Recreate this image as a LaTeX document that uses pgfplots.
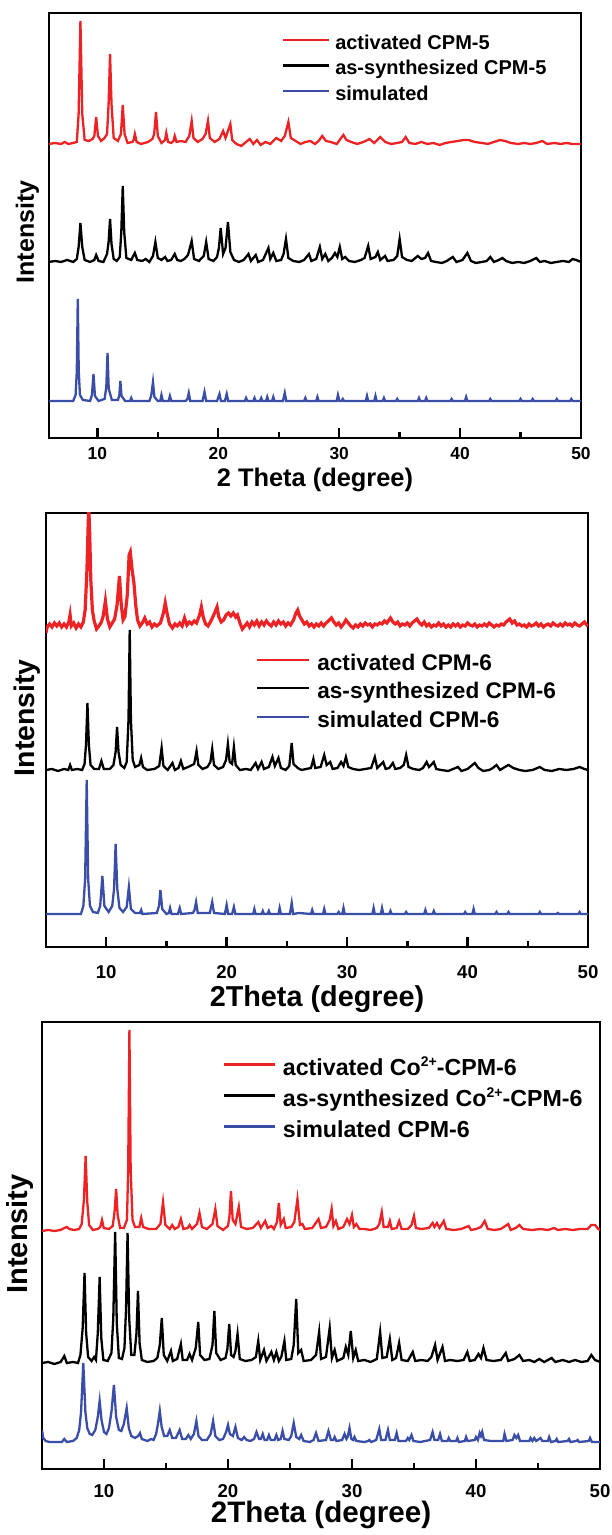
\documentclass[border=0pt]{standalone}
\usepackage{pgfplots}
\pgfplotsset{compat=1.18}
\usepackage{fontspec}
\setmainfont{Liberation Sans}
\definecolor{xred}{RGB}{236,34,36}
\definecolor{xblue}{RGB}{58,78,168}
\newcommand{\supc}[1]{\raisebox{0.75ex}{\fontsize{7}{7}\selectfont #1}}
\pgfplotsset{
 xrd/.style={
  scale only axis, anchor=south west, xmax=50, ymin=0,
  xtick={10,20,30,40,50}, minor x tick num=1, xtick pos=left, tick align=inside,
  ytick=\empty, major tick length=5pt, minor tick length=3pt,
  every tick/.style={black, line width=1.2pt},
  axis line style={line width=1.4pt},
  /pgf/number format/assume math mode=true,
  legend cell align=left,
 }
}
\begin{document}
\begin{tikzpicture}
\useasboundingbox (0,0) rectangle (305.5pt,767.5pt);
% ---------------- Panel 1 ----------------
\begin{axis}[xrd, at={(24.5pt,548.5pt)}, width=266pt, height=212.5pt,
  xmin=6, ymax=425,
  xticklabel style={font=\bfseries\fontsize{8.7}{10}\selectfont, anchor=center, yshift=-7.8pt},
  xlabel={2 Theta (degree)},
  xlabel style={font=\bfseries\fontsize{12.7}{14}\selectfont, at={(axis description cs:0.5,0)}, anchor=center, yshift=-21pt},
  ylabel={Intensity},
  ylabel style={font=\bfseries\fontsize{12.5}{14}\selectfont, at={(axis description cs:-0.0404,0.485)}, anchor=center},
  legend style={draw=none, fill=none, at={(0.436,0.955)}, anchor=north west, inner sep=0pt, row sep=0pt,
    font=\bfseries\fontsize{10}{12}\selectfont, nodes={inner sep=0pt, text height=8.3pt, text depth=4.45pt},
    /tikz/every odd column/.append style={column sep=2.8pt}},
  legend image code/.code={\draw[#1] (0pt,2.6pt) -- (23pt,2.6pt);},
]
\addplot[xred, line width=1.15pt, y filter/.expression={y+294}] coordinates {
(6,0)(6.5,1)(7,0)(7.3,2)(7.6,0)(8.0,1)(8.3,2)(8.45,30)(8.53,80)(8.6,123)(8.67,80)(8.75,30)(8.95,4)(9.3,3)(9.6,5)
(9.75,8)(9.9,27)(10.05,8)(10.3,3)(10.6,6)(10.8,10)(10.93,40)(11.05,90)(11.17,40)(11.35,6)(11.7,3)
(11.95,10)(12.1,39)(12.25,10)(12.5,1)(12.9,2)(13.0,4)(13.1,10)(13.25,2)(13.6,0)(14.2,2)(14.55,5)
(14.7,10)(14.85,32)(15.0,8)(15.3,1)(15.6,4)(15.7,11)(15.85,2)(16.1,1)(16.3,3)(16.4,8)(16.55,2)(16.9,3)(17.3,2)(17.6,8)
(17.8,23)(17.95,6)(18.3,2)(18.7,5)(18.95,10)(19.15,23)(19.3,6)(19.7,2)(20.1,5)(20.4,13)(20.6,6)
(21.0,20)(21.15,4)(21.5,0)(21.9,-2)(22.3,2)(22.6,5)(22.9,0)(23.2,4)(23.5,-1)(23.9,2)(24.3,0)(24.8,6)(25.2,3)(25.5,8)
(25.8,22)(26.0,6)(26.4,3)(26.8,0)(27.2,2)(27.6,3)(28.0,0)(28.3,3)(28.6,8)(28.9,3)(29.3,2)(29.8,0)(30.1,5)
(30.35,9)(30.6,4)(31.0,2)(31.5,0)(32.0,2)(32.5,5)(32.9,1)(33.4,7)(33.8,2)(34.3,0)(34.8,1)(35.2,2)(35.5,7)(35.8,1)(36.3,0)
(36.8,2)(37.3,0)(37.8,1)(38.3,-1)(38.8,1)(39.3,2)(39.8,3)(40.3,4)(40.7,4)(41.2,2)(41.8,1)(42.3,0)(42.8,2)(43.3,4)(43.7,3)
(44.2,1)(44.8,0)(45.3,1)(45.8,0)(46.3,1)(46.8,3)(47.2,0)(47.8,1)(48.3,0)(48.8,1)(49.3,0)(50,0)};
\addlegendentry{activated CPM-5}
\addplot[black, line width=1.15pt, y filter/.expression={y+176}] coordinates {
(6,0)(6.5,1)(7,0)(7.5,2)(8.0,0)(8.3,3)(8.45,15)(8.6,39)(8.75,15)(8.95,2)(9.4,0)(9.75,2)(9.9,7)(10.1,1)(10.5,0)
(10.8,8)(10.93,20)(11.05,43)(11.17,18)(11.35,3)(11.6,1)(11.85,5)(11.98,30)(12.1,76)(12.22,30)(12.4,4)(12.8,2)(13.1,9)(13.3,2)
(13.7,1)(14.0,3)(14.3,0)(14.6,6)(14.8,20)(15.0,4)(15.3,2)(15.6,5)(15.8,1)(16.1,2)(16.4,8)(16.6,2)(16.9,1)(17.2,3)(17.5,7)
(17.8,21)(18.0,3)(18.4,1)(18.8,6)(19.0,20)(19.2,3)(19.6,1)(19.9,5)(20.05,14)(20.2,34)(20.4,8)(20.6,14)(20.8,40)(21.0,10)
(21.3,2)(21.7,0)(22.1,2)(22.5,8)(22.7,1)(23.1,7)(23.3,0)(23.7,2)(24.15,14)(24.3,3)(24.55,9)(24.8,1)(25.2,2)(25.4,8)(25.6,23)
(25.8,4)(26.2,1)(26.7,0)(27.1,2)(27.5,8)(27.7,1)(28.1,3)(28.4,15)(28.6,3)(28.85,8)(29.1,1)(29.4,4)(29.65,9)(29.85,5)(30.05,15)
(30.25,3)(30.5,5)(30.8,1)(31.3,0)(31.8,2)(32.1,4)(32.4,16)(32.6,3)(33.0,5)(33.2,10)(33.4,2)(33.8,6)(34.0,1)(34.5,2)(34.8,6)
(35.0,23)(35.2,5)(35.6,2)(36.0,1)(36.5,6)(36.8,3)(37.1,4)(37.35,9)(37.6,1)(38.0,0)(38.5,-1)(38.9,1)(39.4,5)(39.7,0)(40.2,2)
(40.6,9)(40.9,1)(41.3,-1)(41.8,0)(42.2,1)(42.5,5)(42.8,0)(43.2,2)(43.5,4)(43.8,1)(44.3,-1)(44.8,0)(45.3,-1)(45.8,1)(46.3,4)
(46.6,0)(47.0,1)(47.5,-1)(48.0,0)(48.5,1)(49.0,0)(49.3,3)(49.6,2)(50,0)};
\addlegendentry{as-synthesized CPM-5}
\addplot[xblue, line width=1.15pt, y filter/.expression={y+37}] coordinates {
(6,0)(8.0,0)(8.2,6)(8.3,30)(8.38,102)(8.46,30)(8.56,6)(8.8,1)(9.4,0)(9.55,6)(9.68,27)(9.8,5)(10.1,0)(10.6,2)(10.74,14)
(10.84,48)(10.94,12)(11.2,1)(11.7,1)(11.82,6)(11.9,20)(12.0,5)(12.3,0)(12.7,0)(12.8,3)(12.9,0)(14.3,0)(14.45,5)(14.6,19)
(14.72,4)(15.0,0)(15.2,0)(15.3,6)(15.42,0)(15.9,0)(16.0,5)(16.12,0)(17.3,0)(17.45,2)(17.56,8)(17.68,0)(18.7,0)(18.86,9)(19.0,0)
(19.9,0)(20.1,7)(20.22,0)(20.55,0)(20.7,7)(20.82,0)(22.2,0)(22.3,3)(22.42,0)(22.9,0)(23.0,3)(23.1,0)(23.45,0)(23.55,3)(23.65,0)
(23.95,0)(24.05,4)(24.15,0)(24.45,0)(24.55,4)(24.65,0)(25.35,0)(25.5,8)(25.62,0)(27.1,0)(27.2,3)(27.3,0)(28.1,0)(28.2,4)(28.3,0)
(29.8,0)(29.9,6)(30.02,0)(30.2,0)(30.3,2)(30.4,0)(32.2,0)(32.3,5)(32.4,0)(32.9,0)(33.0,5)(33.1,0)(33.6,0)(33.7,3)(33.8,0)
(34.7,0)(34.8,2)(34.9,0)(36.5,0)(36.6,3)(36.7,0)(37.1,0)(37.2,3)(37.3,0)(39.2,0)(39.3,2)(39.4,0)(40.4,0)(40.5,4)(40.6,0)
(42.4,0)(42.5,2)(42.6,0)(44.9,0)(45.0,2)(45.1,0)(45.9,0)(46.0,2)(46.1,0)(47.9,0)(48.0,2)(48.1,0)(49.1,0)(49.2,2)(49.3,0)(50,0)};
\addlegendentry{simulated}
\end{axis}
% ---------------- Panel 2 ----------------
\begin{axis}[xrd, at={(23pt,294pt)}, width=271pt, height=217pt,
  xmin=5, ymax=434,
  xticklabel style={font=\bfseries\fontsize{9.3}{11}\selectfont, anchor=center, yshift=-12.5pt},
  xlabel={2Theta (degree)},
  xlabel style={font=\bfseries\fontsize{14.4}{16}\selectfont, at={(axis description cs:0.5,0)}, anchor=center, yshift=-26pt},
  ylabel={Intensity},
  ylabel style={font=\bfseries\fontsize{14.2}{16}\selectfont, at={(axis description cs:-0.035,0.528)}, anchor=center},
  legend style={draw=none, fill=none, at={(0.387,0.682)}, anchor=north west, inner sep=0pt, row sep=0pt,
    font=\bfseries\fontsize{11.3}{13}\selectfont, nodes={inner sep=0pt, text height=9.4pt, text depth=4.85pt},
    /tikz/every odd column/.append style={column sep=3.5pt}},
  legend image code/.code={\draw[#1, line width=1.1pt] (0pt,2.9pt) -- (26pt,2.9pt);},
]
\addplot[xred, line width=1.6pt, y filter/.expression={y+322}] coordinates {
(5.0,-8)(5.1,-2)(5.3,1)(5.5,-2)(5.7,2)(5.9,-1)(6.1,2)(6.3,-2)(6.5,1)(6.7,-2)(6.9,3)(7.0,10)(7.1,-1)(7.3,2)(7.5,-3)(7.7,1)
(7.9,-2)(8.1,3)(8.25,15)(8.4,55)(8.5,100)(8.55,118)(8.62,95)(8.72,45)(8.85,15)(9.0,4)(9.2,-4)(9.4,-1)(9.6,3)(9.75,9)(9.93,24)
(10.1,6)(10.3,-2)(10.5,2)(10.7,6)(10.9,20)(11.1,49)(11.25,20)(11.4,5)(11.55,8)(11.75,30)(11.9,70)(12.0,73)(12.15,55)(12.3,42)
(12.45,20)(12.6,5)(12.8,-1)(13.0,2)(13.2,7)(13.4,1)(13.6,3)(13.8,-2)(14.0,1)(14.2,-1)(14.5,2)(14.75,12)(14.9,22)(15.05,12)
(15.25,1)(15.5,-3)(15.7,1)(15.9,-1)(16.1,2)(16.3,-1)(16.5,7)(16.7,0)(16.9,3)(17.1,1)(17.3,4)(17.5,2)(17.75,10)(17.9,18)
(18.05,8)(18.25,1)(18.45,-1)(18.65,3)(18.85,8)(19.0,12)(19.2,18)(19.35,8)(19.55,3)(19.75,5)(19.95,10)(20.15,12)(20.35,9)
(20.55,12)(20.75,8)(20.9,10)(21.1,2)(21.3,-4)(21.5,-1)(21.7,2)(21.9,-2)(22.1,3)(22.3,0)(22.5,4)(22.7,-1)(22.9,3)(23.1,0)
(23.3,4)(23.5,1)(23.7,-1)(23.9,3)(24.1,0)(24.3,4)(24.5,1)(24.7,3)(24.9,-1)(25.1,2)(25.3,0)(25.55,5)(25.75,12)(25.9,15)
(26.05,9)(26.25,5)(26.45,1)(26.65,3)(26.85,-1)(27.05,1)(27.25,-2)(27.45,1)(27.65,-1)(27.85,2)(28.05,-1)(28.25,2)(28.45,4)
(28.7,7)(28.9,3)(29.1,0)(29.3,2)(29.5,-2)(29.7,1)(29.9,5)(30.1,2)(30.3,-1)(30.5,-3)(30.7,0)(30.9,-2)(31.1,1)(31.3,-1)(31.5,2)
(31.7,0)(31.9,1)(32.1,-2)(32.3,1)(32.5,0)(32.7,2)(32.9,1)(33.1,4)(33.3,2)(33.6,7)(33.8,3)(34.0,1)(34.2,3)(34.4,-1)(34.6,1)
(34.8,0)(35.0,2)(35.2,-1)(35.4,2)(35.6,4)(35.8,6)(36.0,2)(36.2,0)(36.4,3)(36.6,-1)(36.8,1)(37.0,-2)(37.2,0)(37.4,-1)(37.6,2)
(37.8,-1)(38.0,1)(38.2,-2)(38.4,0)(38.6,-2)(38.8,1)(39.0,-1)(39.2,1)(39.4,-2)(39.6,0)(39.8,-1)(40.0,2)(40.2,0)(40.4,-1)
(40.6,1)(40.8,-2)(41.0,0)(41.2,-1)(41.4,1)(41.6,-1)(41.8,2)(42.0,0)(42.2,-2)(42.4,0)(42.6,-1)(42.8,1)(43.0,0)(43.2,3)(43.5,6)
(43.7,2)(43.9,4)(44.1,0)(44.3,1)(44.5,-1)(44.7,0)(44.9,-2)(45.1,1)(45.3,-1)(45.5,0)(45.7,2)(45.9,-1)(46.1,1)(46.3,-2)(46.5,0)
(46.7,1)(46.9,-1)(47.1,2)(47.3,0)(47.5,-1)(47.7,1)(47.9,-1)(48.1,2)(48.3,0)(48.5,1)(48.7,-1)(48.9,2)(49.1,0)(49.3,-1)(49.5,1)
(49.7,3)(49.9,0)(50,1)};
\addlegendentry{activated CPM-6}
\addplot[black, line width=1.15pt, y filter/.expression={y+177}] coordinates {
(5,0)(5.5,1)(6.0,-1)(6.5,1)(6.85,0)(7.0,5)(7.15,0)(7.6,1)(8.0,0)(8.2,6)(8.32,25)(8.44,67)(8.56,25)(8.7,5)(9.0,1)(9.4,1)
(9.6,9)(9.8,1)(10.3,1)(10.6,5)(10.78,18)(10.9,43)(11.02,18)(11.2,5)(11.5,2)(11.7,8)(11.85,50)(11.95,140)(12.05,50)(12.2,10)
(12.4,3)(12.75,5)(12.9,12)(13.05,3)(13.4,0)(14.0,1)(14.4,4)(14.6,22)(14.75,4)(15.1,0)(15.5,7)(15.7,0)(16.0,2)(16.2,9)(16.4,1)
(16.8,3)(17.3,6)(17.5,19)(17.65,5)(18.0,1)(18.4,3)(18.65,8)(18.8,21)(18.95,5)(19.3,1)(19.7,3)(19.95,10)(20.1,26)(20.25,8)
(20.45,6)(20.6,23)(20.75,5)(21.1,0)(21.6,1)(22.0,0)(22.4,7)(22.6,1)(22.9,8)(23.1,1)(23.5,3)(23.8,13)(24.0,4)(24.3,12)(24.5,2)
(24.9,0)(25.2,4)(25.4,27)(25.55,6)(25.9,2)(26.2,0)(26.6,1)(27.0,2)(27.2,11)(27.35,2)(27.8,3)(28.1,15)(28.3,5)(28.6,8)(28.8,1)
(29.2,2)(29.5,8)(29.7,4)(29.9,13)(30.1,3)(30.5,1)(31.0,0)(31.5,1)(32.0,2)(32.3,13)(32.5,2)(33.0,8)(33.2,1)(33.5,2)(33.8,7)
(34.0,1)(34.4,2)(34.7,5)(34.9,15)(35.1,3)(35.5,1)(36.0,0)(36.3,2)(36.6,8)(36.8,3)(37.2,8)(37.4,1)(37.8,0)(38.4,-1)(38.8,1)
(39.2,3)(39.5,-1)(40.0,1)(40.3,4)(40.6,7)(40.9,2)(41.3,-1)(41.8,0)(42.1,2)(42.4,5)(42.7,0)(43.1,3)(43.4,5)(43.8,2)(44.3,0)
(44.8,-1)(45.4,0)(46.0,3)(46.4,0)(47.0,-1)(47.6,1)(48.2,0)(48.8,1)(49.3,3)(49.7,1)(50,0)};
\addlegendentry{as-synthesized CPM-6}
\addplot[xblue, line width=1.15pt, y filter/.expression={y+33}] coordinates {
(5,0)(7.9,0)(8.1,8)(8.25,35)(8.38,134)(8.5,35)(8.65,8)(8.9,2)(9.3,1)(9.5,8)(9.68,38)(9.85,8)(10.2,2)(10.5,8)(10.65,25)
(10.78,70)(10.92,25)(11.1,6)(11.4,2)(11.7,7)(11.88,27)(12.05,5)(12.4,1)(12.8,1)(12.9,4)(13.0,0)(14.2,1)(14.38,8)(14.5,24)
(14.65,5)(15.0,0)(15.2,1)(15.3,6)(15.42,0)(15.95,0)(16.1,6)(16.22,0)(17.2,1)(17.33,4)(17.46,12)(17.6,1)(18.6,1)(18.8,12)
(18.95,1)(19.85,0)(20.0,9)(20.12,0)(20.45,0)(20.6,7)(20.72,0)(22.2,0)(22.3,5)(22.4,0)(22.9,0)(23.0,3)(23.1,0)(23.4,0)(23.5,3)
(23.6,0)(24.3,0)(24.4,6)(24.5,0)(25.25,0)(25.4,11)(25.52,0)(26.0,1)(27.0,0)(27.1,4)(27.2,0)(28.0,0)(28.1,5)(28.2,0)(29.2,0)
(29.3,2)(29.4,0)(29.6,0)(29.7,6)(29.8,0)(32.1,0)(32.2,6)(32.3,0)(32.8,0)(32.9,6)(33.0,0)(33.5,0)(33.6,3)(33.7,0)(34.8,0)
(34.9,2)(35.0,0)(36.4,0)(36.5,4)(36.6,0)(37.1,0)(37.2,3)(37.3,0)(39.7,0)(39.8,2)(39.9,0)(40.4,0)(40.5,5)(40.6,0)(42.3,0)
(42.4,2)(42.5,0)(43.3,0)(43.4,2)(43.5,0)(45.9,0)(46.0,2)(46.1,0)(47.4,0)(47.5,1)(47.6,0)(49.2,0)(49.3,2)(49.4,0)(50,0)};
\addlegendentry{simulated CPM-6}
\end{axis}
% ---------------- Panel 3 ----------------
\begin{axis}[xrd, at={(21pt,33pt)}, width=279pt, height=223.5pt,
  xmin=5, ymax=447,
  xticklabel style={font=\bfseries\fontsize{9.3}{11}\selectfont, anchor=center, yshift=-11.2pt},
  xlabel={2Theta (degree)},
  xlabel style={font=\bfseries\fontsize{14.8}{16}\selectfont, at={(axis description cs:0.5,0)}, anchor=center, yshift=-23pt},
  ylabel={Intensity},
  ylabel style={font=\bfseries\fontsize{14.5}{16}\selectfont, at={(axis description cs:-0.040,0.526)}, anchor=center},
  legend style={draw=none, fill=none, at={(0.323,0.927)}, anchor=north west, inner sep=0pt, row sep=0pt,
    font=\bfseries\fontsize{11.6}{13}\selectfont, nodes={inner sep=0pt, text height=10.2pt, text depth=5.3pt},
    /tikz/every odd column/.append style={column sep=3.5pt}},
  legend image code/.code={\draw[#1] (0pt,3pt) -- (25.5pt,3pt);},
]
\addplot[xred, line width=1.15pt, y filter/.expression={y+239}] coordinates {
(5,-1)(5.5,0)(6.0,-1)(6.5,0)(6.8,2)(7.0,3)(7.2,1)(7.6,0)(8.0,1)(8.2,6)(8.38,30)(8.52,74)(8.65,28)(8.8,5)(9.1,0)(9.5,1)(9.7,3)
(9.84,10)(9.98,2)(10.4,1)(10.7,4)(10.85,18)(10.98,41)(11.1,15)(11.3,2)(11.6,2)(11.85,10)(11.95,60)(12.05,200)(12.15,60)
(12.3,10)(12.5,3)(12.85,3)(13.0,12)(13.15,3)(13.6,1)(14.2,1)(14.55,6)(14.76,28)(14.95,5)(15.3,1)(15.5,5)(15.7,1)(16.0,3)
(16.2,11)(16.4,1)(16.75,2)(16.9,5)(17.1,1)(17.5,6)(17.7,17)(17.9,3)(18.3,1)(18.75,6)(18.98,21)(19.15,4)(19.6,0)(20.0,4)
(20.12,14)(20.24,39)(20.38,10)(20.6,6)(20.87,23)(21.05,3)(21.5,1)(22.0,2)(22.45,8)(22.65,2)(23.0,9)(23.2,2)(23.5,4)(23.7,1)
(23.95,8)(24.1,27)(24.25,5)(24.5,11)(24.65,2)(25.1,3)(25.35,8)(25.6,31)(25.8,5)(26.0,6)(26.2,1)(26.8,2)(27.3,11)(27.5,2)
(27.9,3)(28.2,10)(28.36,21)(28.5,4)(28.7,9)(28.9,1)(29.3,3)(29.6,11)(29.8,6)(30.0,15)(30.15,3)(30.35,6)(30.6,1)(31.0,1)
(31.5,0)(32.0,2)(32.2,6)(32.4,18)(32.55,3)(32.9,3)(33.05,9)(33.2,1)(33.6,2)(33.8,9)(34.0,1)(34.5,1)(34.8,5)(35.0,14)(35.15,2)
(35.6,1)(36.2,2)(36.5,7)(36.65,3)(36.85,7)(37.05,2)(37.4,9)(37.6,1)(38.2,0)(38.8,1)(39.4,4)(39.6,0)(40.0,1)(40.4,3)(40.7,9)
(40.95,1)(41.5,0)(42.0,1)(42.6,6)(42.8,0)(43.2,2)(43.5,5)(43.8,1)(44.5,0)(45.2,1)(45.8,0)(46.3,2)(46.6,0)(47.2,1)(47.8,0)
(48.4,1)(49.0,1)(49.3,5)(49.6,5)(49.85,1)(50,0)};
\addlegendentry{activated Co\supc{2+}-CPM-6}
\addplot[black, line width=1.15pt, y filter/.expression={y+106}] coordinates {
(5,0)(5.5,1)(6.0,-1)(6.5,1)(6.8,7)(7.0,0)(7.5,1)(7.9,0)(8.1,8)(8.28,35)(8.43,90)(8.56,30)(8.72,6)(9.0,2)(9.2,6)(9.35,3)
(9.5,30)(9.65,86)(9.78,25)(9.95,3)(10.3,2)(10.6,10)(10.75,45)(10.9,131)(11.03,40)(11.2,5)(11.45,4)(11.65,15)(11.78,55)
(11.9,130)(12.03,45)(12.2,8)(12.45,8)(12.62,30)(12.74,72)(12.87,20)(13.05,3)(13.5,1)(14.0,2)(14.3,5)(14.5,18)(14.66,45)
(14.82,8)(15.1,2)(15.4,12)(15.55,2)(15.9,4)(16.2,19)(16.35,3)(16.7,3)(16.9,9)(17.1,3)(17.4,15)(17.6,41)(17.75,8)(18.1,3)
(18.5,4)(18.75,18)(18.9,52)(19.05,10)(19.4,3)(19.8,5)(19.95,14)(20.1,39)(20.25,8)(20.45,6)(20.6,12)(20.77,29)(20.95,4)
(21.4,2)(21.9,3)(22.25,6)(22.44,22)(22.6,3)(22.9,13)(23.1,2)(23.5,11)(23.7,3)(23.9,11)(24.1,2)(24.3,6)(24.55,22)(24.7,3)
(25.1,4)(25.3,18)(25.5,64)(25.67,10)(25.9,13)(26.1,2)(26.7,3)(27.1,8)(27.35,31)(27.5,4)(27.9,6)(28.2,35)(28.38,5)(28.6,13)
(28.8,2)(29.3,5)(29.5,16)(29.7,8)(29.9,32)(30.1,5)(30.3,13)(30.5,2)(31.0,3)(31.5,1)(32.0,4)(32.27,31)(32.45,5)(32.8,6)
(33.05,24)(33.25,3)(33.55,5)(33.8,20)(34.0,3)(34.5,2)(34.9,11)(35.1,2)(35.6,3)(36.1,2)(36.4,6)(36.7,18)(36.9,3)(37.3,16)
(37.5,2)(37.9,3)(38.5,2)(39.0,3)(39.3,11)(39.5,2)(39.9,3)(40.2,9)(40.4,5)(40.6,15)(40.85,3)(41.4,2)(42.0,3)(42.4,10)(42.6,2)
(43.1,4)(43.5,8)(43.8,2)(44.3,3)(44.7,1)(45.1,4)(45.5,1)(46.1,5)(46.4,1)(47.0,3)(47.5,1)(48.0,3)(48.5,1)(49.0,2)(49.3,8)
(49.6,3)(50,1)};
\addlegendentry{as-synthesized Co\supc{2+}-CPM-6}
\addplot[xblue, line width=1.15pt, y filter/.expression={y+27}] coordinates {
(5,12)(5.1,4)(5.3,1)(5.6,0)(6.6,0)(6.8,3)(7.0,0)(7.5,1)(7.8,4)(8.0,12)(8.15,30)(8.33,79)(8.5,30)(8.65,14)(8.85,8)(9.05,7)
(9.3,12)(9.5,25)(9.65,41)(9.8,22)(10.0,10)(10.2,8)(10.4,14)(10.6,30)(10.8,57)(10.98,25)(11.2,12)(11.4,11)(11.6,18)(11.83,34)
(12.0,14)(12.2,6)(12.5,4)(12.75,6)(12.9,9)(13.05,3)(13.5,1)(13.8,3)(14.0,2)(14.2,8)(14.35,18)(14.5,31)(14.65,15)(14.85,6)
(15.1,6)(15.3,12)(15.5,4)(15.8,4)(16.1,12)(16.3,3)(16.6,3)(16.8,7)(17.0,3)(17.25,8)(17.45,21)(17.62,6)(17.9,2)(18.3,2)
(18.6,8)(18.8,21)(18.98,6)(19.3,2)(19.6,3)(19.85,10)(20.0,17)(20.15,8)(20.4,6)(20.6,15)(20.8,4)(21.1,2)(21.3,5)(21.5,2)
(21.8,1)(22.1,3)(22.3,10)(22.5,3)(22.65,3)(22.8,8)(22.95,2)(23.15,2)(23.3,7)(23.45,2)(23.75,2)(23.9,7)(24.05,2)(24.25,3)
(24.4,11)(24.55,3)(24.9,2)(25.1,6)(25.3,19)(25.5,5)(25.75,3)(25.9,7)(26.1,1)(26.6,0)(26.9,2)(27.1,9)(27.3,1)(27.9,2)(28.1,11)
(28.3,2)(28.5,2)(28.6,5)(28.75,1)(29.2,2)(29.4,8)(29.55,3)(29.65,5)(29.8,14)(29.95,3)(30.1,2)(30.2,5)(30.35,1)(31.0,0)(31.3,1)
(31.4,2)(31.55,0)(31.95,2)(32.2,13)(32.35,2)(32.7,2)(32.9,12)(33.05,2)(33.45,2)(33.6,9)(33.75,1)(34.35,1)(34.5,4)(34.62,2)
(34.8,7)(34.95,1)(35.5,0)(36.3,2)(36.5,10)(36.65,2)(36.95,2)(37.1,8)(37.25,1)(37.7,1)(37.8,4)(37.92,1)(38.4,1)(38.5,4)
(38.62,0)(39.1,1)(39.2,5)(39.32,1)(39.9,2)(40.0,5)(40.15,2)(40.3,9)(40.4,6)(40.5,10)(40.65,2)(41.2,1)(42.2,1)(42.3,8)(42.45,1)
(42.95,2)(43.1,7)(43.25,4)(43.4,7)(43.55,1)(44.3,1)(44.4,4)(44.55,1)(44.7,4)(44.85,1)(45.2,4)(45.35,1)(45.8,1)(45.9,5)
(46.05,0)(46.4,1)(46.5,3)(46.62,0)(47.4,1)(47.5,3)(47.62,0)(48.1,1)(48.2,2)(48.32,0)(49.1,1)(49.2,4)(49.35,0)(50,0)};
\addlegendentry{simulated CPM-6}
\end{axis}
\end{tikzpicture}
\end{document}
